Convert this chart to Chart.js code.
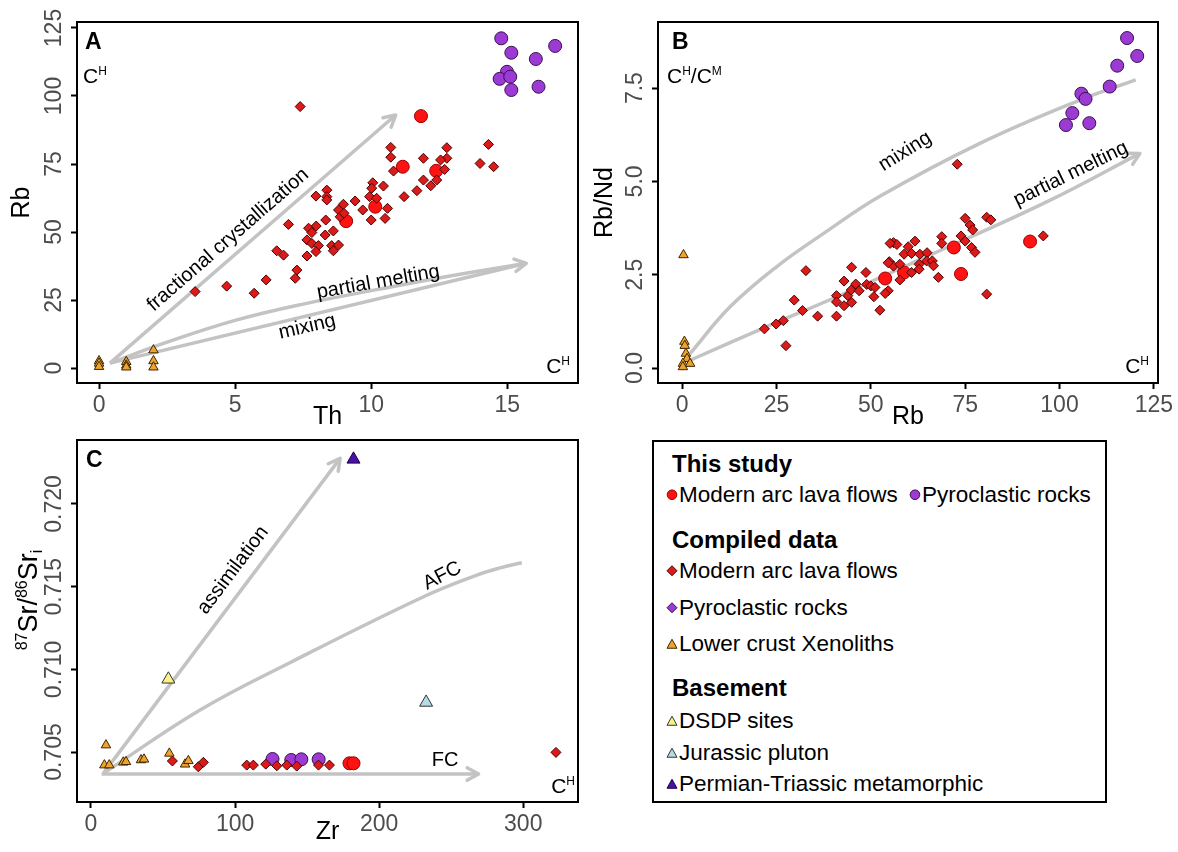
<!DOCTYPE html>
<html>
<head>
<meta charset="utf-8">
<script src="https://cdn.jsdelivr.net/npm/chart.js@4.4.1/dist/chart.umd.min.js"></script>
<style>
  body { margin: 0; background: #fff; width: 1178px; height: 852px; position: relative; overflow: hidden;
         font-family: "Liberation Sans", Arial, sans-serif; }
  canvas { position: absolute; }
  #legend { position: absolute; left: 652px; top: 440px; width: 451px; height: 359px; border: 2px solid #000; }
  .lg { position: absolute; white-space: nowrap; line-height: 1; color: #000; transform: translateY(-50%); }
  .lg.head { font-weight: bold; font-size: 24px; }
  .lg.item { font-size: 22.5px; display: flex; align-items: center; }
  .lg.item svg { margin-right: 1px; }
</style>
</head>
<body>
<canvas id="panelA" width="590" height="432" style="left:0;top:0"></canvas>
<canvas id="panelB" width="588" height="432" style="left:590px;top:0"></canvas>
<canvas id="panelC" width="590" height="432" style="left:0;top:420px"></canvas>
<div id="legend"></div>
<script>
// ---------- panel A : Th vs Rb ----------
const aTicksX = [0, 5, 10, 15];
const aLabelsX = ['0', '5', '10', '15'];
const aTicksY = [0, 25, 50, 75, 100, 125];
const aLabelsY = ['0', '25', '50', '75', '100', '125'];

const aLavaTh = [7.39, 10.72, 10.72, 10.82, 11.92, 12.78, 12.78, 12.55, 12.7, 11.92, 12.41, 12.19, 11.68, 11.21,
  14.31, 14.0, 14.5, 10.06, 10.02, 10.45, 9.94, 10.2, 9.41, 9.69, 10.6, 10.51, 10.0, 8.98, 8.8, 8.86, 8.37, 8.37,
  7.97, 8.33, 7.98, 7.70, 7.82, 8.61, 8.31, 6.96, 7.64, 7.82, 8.06, 8.55, 8.8, 8.61, 7.97, 7.64, 6.53, 6.78, 7.27,
  7.21, 6.14, 5.70, 4.69, 3.53, 8.37, 9.0];
const aLavaRb = [96.1, 81.1, 77.5, 72.4, 77.1, 81.0, 77.1, 76.5, 73.0, 69.1, 69.1, 67.0, 65.2, 63.0,
  82.2, 75.2, 74.0, 68.1, 66.1, 66.9, 63.0, 62.4, 61.4, 58.1, 58.7, 55.0, 54.4, 60.2, 58.1, 55.6, 65.4, 63.0,
  63.2, 54.4, 52.2, 51.4, 49.8, 50.4, 48.9, 52.8, 47.1, 45.8, 45.0, 45.0, 45.2, 43.1, 42.8, 41.2, 43.1, 41.5, 36.0,
  33.0, 32.4, 27.5, 30.1, 28.1, 61.8, 56.9];
const aStudyLavaTh = [11.83, 11.16, 12.39, 10.15, 9.08];
const aStudyLavaRb = [92.6, 74.0, 72.5, 59.3, 54.0];
const aPyroTh = [14.78, 15.15, 16.76, 16.05, 14.99, 14.72, 15.11, 15.15, 16.15];
const aPyroRb = [121.2, 115.9, 118.4, 113.6, 108.9, 106.3, 107.1, 102.2, 103.4];
const aXenoTh = [0, 0, 0, 1, 1, 1, 2, 2, 2];
const aXenoRb = [2.6, 1.7, 0.5, 2.3, 1.0, 0.3, 6.6, 2.6, 0.3];
// model trends
const aFcTh = [0.4, 10.9];
const aFcRb = [1.8, 93];
const aPmTh = [0.4, 2.5, 5, 7.5, 10.3, 13, 15.7];
const aPmRb = [1.8, 9.5, 17.5, 23.5, 29, 34, 38.5];
const aMixTh = [0.4, 15.7];
const aMixRb = [1.8, 38.5];

// ---------- panel B : Rb vs Rb/Nd ----------
const bTicksX = [0, 25, 50, 75, 100, 125];
const bLabelsX = ['0', '25', '50', '75', '100', '125'];
const bTicksY = [0, 2.5, 5, 7.5];
const bLabelsY = ['0.0', '2.5', '5.0', '7.5'];

const bLavaRb = [72.9, 95.7, 80.7, 75.0, 76.3, 77.0, 80.7, 81.8, 73.9, 75.0, 76.7, 77.6, 68.8, 68.8, 61.7, 56.0,
  56.9, 59.9, 58.8, 60.8, 63.0, 64.9, 64.8, 66.3, 66.6, 62.8, 62.8, 54.9, 56.0, 57.7, 60.8, 57.7, 67.9, 54.6, 53.8,
  52.4, 21.8, 24.9, 26.8, 27.5, 29.7, 31.9, 32.8, 35.9, 40.9, 40.9, 40.9, 42.9, 42.9, 43.9, 44.9, 44.9, 44.8, 46.0,
  46.9, 48.7, 48.9, 50.0, 50.8, 51.1, 54.6, 55.1];
const bLavaRatio = [5.46, 3.54, 1.98, 4.01, 3.83, 3.70, 4.04, 3.97, 3.54, 3.40, 3.23, 3.10, 3.52, 3.34, 3.40, 3.36,
  3.31, 3.25, 3.05, 3.07, 3.05, 3.09, 2.87, 2.87, 2.74, 2.78, 2.65, 2.85, 2.73, 2.78, 2.56, 2.36, 2.43, 2.07, 2.0,
  1.55, 1.05, 1.18, 1.27, 0.60, 1.82, 1.54, 2.61, 1.39, 1.94, 1.77, 1.39, 2.33, 1.67, 1.94, 2.70, 1.76, 2.09, 2.25,
  2.07, 2.56, 2.24, 2.20, 1.91, 2.16, 2.82, 3.34];
const bStudyLavaRb = [92.2, 73.9, 72.0, 58.8, 53.8];
const bStudyLavaRatio = [3.39, 2.52, 3.23, 2.56, 2.40];
const bPyroRb = [117.9, 120.6, 115.3, 113.3, 105.8, 106.9, 103.4, 101.7, 107.9];
const bPyroRatio = [8.84, 8.36, 8.10, 7.54, 7.35, 7.21, 6.83, 6.51, 6.56];
const bXenoRb = [0.35, 0.6, 0.7, 1.0, 1.3, 0.2, 2.1, 0.2];
const bXenoRatio = [3.03, 0.71, 0.6, 0.39, 0.25, 0.12, 0.12, 0.03];
const bMixRb = [2.1, 12.7, 25.1, 37.4, 52.4, 78.9, 105.4, 120.2];
const bMixRatio = [0.39, 1.64, 2.72, 3.60, 4.60, 6.02, 7.18, 7.72];
const bPmRb = [2.1, 21.5, 41, 64, 96.6, 121.3];
const bPmRatio = [0.21, 1.07, 1.91, 2.95, 4.45, 5.75];

// ---------- panel C : Zr vs 87Sr/86Sr(i) ----------
const cTicksX = [0, 100, 200, 300];
const cLabelsX = ['0', '100', '200', '300'];
const cTicksY = [0.705, 0.710, 0.715, 0.720];
const cLabelsY = ['0.705', '0.710', '0.715', '0.720'];

const cXenoZr = [10.4, 9.3, 12.7, 22.4, 24.3, 34.7, 36.8, 54.4, 65.3, 67.6];
const cXenoSr = [0.70542, 0.70421, 0.70421, 0.70438, 0.70441, 0.70452, 0.70456, 0.70492, 0.70426, 0.70447];
const cLavaZr = [56.5, 74.5, 78, 108.1, 112.7, 121.3, 129, 135.9, 142.8, 157.9, 165.5, 322.7];
const cLavaSr = [0.70446, 0.70411, 0.70438, 0.70421, 0.70421, 0.70427, 0.70417, 0.70421, 0.70415, 0.70421, 0.70421, 0.70498];
const cPyroZr = [126, 139, 146, 158];
const cPyroSr = [0.70458, 0.70452, 0.70456, 0.70456];
const cStudyLavaZr = [179.4, 182.2];
const cStudyLavaSr = [0.70432, 0.70432];
const cDsdpZr = [53.7];
const cDsdpSr = [0.7094];
const cJurassicZr = [232.6];
const cJurassicSr = [0.708];
const cPermianZr = [182.2];
const cPermianSr = [0.7227];
const cAssimZr = [8.6, 172.9];
const cAssimSr = [0.70371, 0.72276];
const cAfcZr = [8.6, 75.7, 138, 230.8, 267.8, 284, 299];
const cAfcSr = [0.70371, 0.70754, 0.7104, 0.71439, 0.7157, 0.71614, 0.71645];
const cFcZr = [7.4, 269];
const cFcSr = [0.70367, 0.70367];

// ---------- styles ----------
const FONT = '"Liberation Sans", Arial, sans-serif';
const TREND = '#c3c3c3';
const sty = {
  lava:     { shape: 'rectRot',  fill: '#dc1a1a', edge: '#4a0000', r: 5 },
  study:    { shape: 'circle',   fill: '#ff1212', edge: '#9a0000', r: 6.5 },
  pyro:     { shape: 'circle',   fill: '#9b3bd4', edge: '#3a1052', r: 6.5 },
  xeno:     { shape: 'triangle', fill: '#f0a22e', edge: '#3d2600', r: 5.5 },
  dsdp:     { shape: 'triangle', fill: '#f8f28a', edge: '#333333', r: 7.5 },
  jurassic: { shape: 'triangle', fill: '#b5dbe3', edge: '#333333', r: 7.5 },
  permian:  { shape: 'triangle', fill: '#4a12a8', edge: '#1c0040', r: 7.5 }
};

const pts = (xs, ys) => xs.map((v, i) => ({ x: v, y: ys[i] }));

function markers(xs, ys, s) {
  return { data: pts(xs, ys), showLine: false, pointStyle: s.shape, pointRadius: s.r,
           pointBackgroundColor: s.fill, pointBorderColor: s.edge, pointBorderWidth: 1, order: 1 };
}
function trend(xs, ys, arrow, curved) {
  return { data: pts(xs, ys), showLine: true, pointRadius: 0, borderColor: TREND, borderWidth: 3.5,
           tension: curved ? 0.4 : 0, cubicInterpolationMode: 'default',
           fill: false, order: 5, arrow: arrow };
}

// draws text made of runs with different size / vertical shift
function drawRich(ctx, parts, x, y, align) {
  let w = 0;
  parts.forEach(p => { ctx.font = p.s + 'px ' + FONT; p.w = ctx.measureText(p.t).width; w += p.w; });
  let cx = align === 'right' ? x - w : align === 'center' ? x - w / 2 : x;
  ctx.textAlign = 'left';
  ctx.textBaseline = 'alphabetic';
  parts.forEach(p => { ctx.font = p.s + 'px ' + FONT; ctx.fillText(p.t, cx, y + (p.dy || 0)); cx += p.w; });
}
const CH = [{ t: 'C', s: 21 }, { t: 'H', s: 12, dy: -8 }];

function makeDecor(cfg) {
  return {
    id: 'decor' + cfg.letter,
    afterDatasetsDraw(chart) {
      const { ctx, scales: { x, y } } = chart;
      ctx.save();
      chart.data.datasets.forEach(ds => {
        if (!ds.arrow) return;
        const n = ds.data.length, p = ds.data[n - 1], q = ds.data[n - 2];
        const px = x.getPixelForValue(p.x), py = y.getPixelForValue(p.y);
        const ang = Math.atan2(py - y.getPixelForValue(q.y), px - x.getPixelForValue(q.x));
        ctx.strokeStyle = ds.borderColor;
        ctx.lineWidth = ds.borderWidth;
        ctx.lineCap = 'round';
        ctx.lineJoin = 'round';
        ctx.beginPath();
        ctx.moveTo(px - 13 * Math.cos(ang - 0.5), py - 13 * Math.sin(ang - 0.5));
        ctx.lineTo(px, py);
        ctx.lineTo(px - 13 * Math.cos(ang + 0.5), py - 13 * Math.sin(ang + 0.5));
        ctx.stroke();
      });
      ctx.restore();
    },
    afterDraw(chart) {
      const { ctx, chartArea: a, scales: { x, y } } = chart;
      ctx.save();
      // frame
      ctx.strokeStyle = '#000';
      ctx.lineWidth = 2;
      ctx.strokeRect(a.left, a.top, a.right - a.left, a.bottom - a.top);
      // rotated y tick labels
      ctx.fillStyle = '#4d4d4d';
      ctx.font = '23px ' + FONT;
      ctx.textAlign = 'center';
      ctx.textBaseline = 'middle';
      cfg.ticksY.forEach((v, i) => {
        ctx.save();
        ctx.translate(a.left - 22, y.getPixelForValue(v));
        ctx.rotate(-Math.PI / 2);
        ctx.fillText(cfg.labelsY[i], 0, 0);
        ctx.restore();
      });
      // notes along the trends
      ctx.fillStyle = '#000';
      cfg.notes.forEach(nt => {
        ctx.save();
        ctx.translate(x.getPixelForValue(nt.x), y.getPixelForValue(nt.y));
        ctx.rotate(nt.angle * Math.PI / 180);
        ctx.font = '20px ' + FONT;
        ctx.textAlign = 'center';
        ctx.textBaseline = 'middle';
        ctx.fillText(nt.text, 0, 0);
        ctx.restore();
      });
      // corner labels
      cfg.corners.forEach(c => {
        const cx = c.side === 'left' ? a.left + c.dx : a.right - c.dx;
        const cy = c.top ? a.top + c.dy : a.bottom - c.dy;
        drawRich(ctx, c.parts, cx, cy, c.side);
      });
      // panel letter
      ctx.font = 'bold 23px ' + FONT;
      ctx.textAlign = 'left';
      ctx.textBaseline = 'alphabetic';
      ctx.fillText(cfg.letter, a.left + cfg.letterDx, a.top + 27);
      // composed y title (panel C)
      if (cfg.richTitle) {
        ctx.save();
        ctx.translate(cfg.richTitle.x, (a.top + a.bottom) / 2 + cfg.richTitle.dy);
        ctx.rotate(-Math.PI / 2);
        drawRich(ctx, cfg.richTitle.parts, 0, 9, 'center');
        ctx.restore();
      }
      ctx.restore();
    }
  };
}

function makePanel(id, cfg, datasets) {
  return new Chart(document.getElementById(id), {
    type: 'scatter',
    data: { datasets: datasets },
    options: {
      responsive: false, animation: false, events: [], devicePixelRatio: 1,
      layout: { padding: { top: cfg.padTop, right: cfg.padRight, left: 0, bottom: 0 } },
      plugins: { legend: { display: false }, tooltip: { enabled: false } },
      scales: {
        x: {
          type: 'linear', min: cfg.xMin, max: cfg.xMax,
          afterBuildTicks: s => { s.ticks = cfg.ticksX.map(v => ({ value: v })); },
          afterFit: s => { s.height = cfg.xHeight; },
          grid: { drawOnChartArea: false, drawTicks: true, tickLength: 6, tickColor: '#000', tickWidth: 2 },
          border: { display: false },
          ticks: { color: '#4d4d4d', font: { size: 23, family: FONT }, padding: 3, maxRotation: 0,
                   callback: (v, i) => cfg.labelsX[i] },
          title: { display: true, text: cfg.titleX, color: '#000', font: { size: 25, family: FONT },
                   padding: { top: 0, bottom: cfg.xTitlePad } }
        },
        y: {
          type: 'linear', min: cfg.yMin, max: cfg.yMax,
          afterBuildTicks: s => { s.ticks = cfg.ticksY.map(v => ({ value: v })); },
          afterFit: s => { s.width = cfg.yWidth; },
          grid: { drawOnChartArea: false, drawTicks: true, tickLength: 6, tickColor: '#000', tickWidth: 2 },
          border: { display: false },
          ticks: { display: false },
          title: { display: !!cfg.titleY, text: cfg.titleY || '', color: '#000', font: { size: 25, family: FONT },
                   padding: { top: cfg.yTitlePad, bottom: 0 } }
        }
      }
    },
    plugins: [makeDecor(cfg)]
  });
}

makePanel('panelA', {
  letter: 'A', letterDx: 8, padTop: 22, padRight: 12, xHeight: 49, yWidth: 77,
  xMin: -0.81, xMax: 17.6, yMin: -5.5, yMax: 127.2,
  ticksX: aTicksX, labelsX: aLabelsX, ticksY: aTicksY, labelsY: aLabelsY,
  titleX: 'Th', titleY: 'Rb', xTitlePad: 0, yTitlePad: 7,
  notes: [
    { text: 'fractional crystallization', x: 4.74, y: 47.1, angle: -41 },
    { text: 'partial melting', x: 10.26, y: 31.6, angle: -10 },
    { text: 'mixing', x: 7.65, y: 15.1, angle: -13 }
  ],
  corners: [
    { parts: CH, side: 'left', top: true, dx: 6, dy: 61 },
    { parts: CH, side: 'right', top: false, dx: 8, dy: 10 }
  ]
}, [
  markers(aXenoTh, aXenoRb, sty.xeno),
  markers(aLavaTh, aLavaRb, sty.lava),
  markers(aStudyLavaTh, aStudyLavaRb, sty.study),
  markers(aPyroTh, aPyroRb, sty.pyro),
  trend(aFcTh, aFcRb, true, false),
  trend(aPmTh, aPmRb, true, true),
  trend(aMixTh, aMixRb, false, false)
]);

makePanel('panelB', {
  letter: 'B', letterDx: 14, padTop: 22, padRight: 20, xHeight: 49, yWidth: 68,
  xMin: -6.4, xMax: 126.1, yMin: -0.4, yMax: 9.27,
  ticksX: bTicksX, labelsX: bLabelsX, ticksY: bTicksY, labelsY: bLabelsY,
  titleX: 'Rb', titleY: 'Rb/Nd', xTitlePad: 0, yTitlePad: 0,
  notes: [
    { text: 'mixing', x: 59.1, y: 5.8, angle: -32 },
    { text: 'partial melting', x: 103.0, y: 5.2, angle: -26 }
  ],
  corners: [
    { parts: [{ t: 'C', s: 21 }, { t: 'H', s: 12, dy: -8 }, { t: '/C', s: 21 }, { t: 'M', s: 12, dy: -8 }],
      side: 'left', top: true, dx: 9, dy: 61 },
    { parts: CH, side: 'right', top: false, dx: 9, dy: 10 }
  ]
}, [
  markers(bXenoRb, bXenoRatio, sty.xeno),
  markers(bLavaRb, bLavaRatio, sty.lava),
  markers(bStudyLavaRb, bStudyLavaRatio, sty.study),
  markers(bPyroRb, bPyroRatio, sty.pyro),
  trend(bMixRb, bMixRatio, false, true),
  trend(bPmRb, bPmRatio, true, true)
]);

makePanel('panelC', {
  letter: 'C', letterDx: 9, padTop: 20, padRight: 12, xHeight: 50, yWidth: 77,
  xMin: -9.7, xMax: 338, yMin: 0.70198, yMax: 0.72387,
  ticksX: cTicksX, labelsX: cLabelsX, ticksY: cTicksY, labelsY: cLabelsY,
  titleX: 'Zr', titleY: null, xTitlePad: 5, yTitlePad: 0,
  notes: [
    { text: 'assimilation', x: 98.6, y: 0.716, angle: -53 },
    { text: 'AFC', x: 243.8, y: 0.71565, angle: -27 },
    { text: 'FC', x: 245.8, y: 0.70452, angle: 0 }
  ],
  corners: [
    { parts: CH, side: 'right', top: false, dx: 3, dy: 9 }
  ],
  richTitle: { x: 28, dy: -21, parts: [
    { t: '87', s: 16, dy: -10 }, { t: 'Sr/', s: 27 }, { t: '86', s: 16, dy: -10 },
    { t: 'Sr', s: 27 }, { t: 'i', s: 16, dy: 5 }
  ] }
}, [
  markers(cXenoZr, cXenoSr, sty.xeno),
  markers(cLavaZr, cLavaSr, sty.lava),
  markers(cPyroZr, cPyroSr, sty.pyro),
  markers(cStudyLavaZr, cStudyLavaSr, sty.study),
  markers(cDsdpZr, cDsdpSr, sty.dsdp),
  markers(cJurassicZr, cJurassicSr, sty.jurassic),
  markers(cPermianZr, cPermianSr, sty.permian),
  trend(cAssimZr, cAssimSr, true, false),
  trend(cAfcZr, cAfcSr, false, true),
  trend(cFcZr, cFcSr, true, false)
]);

// ---------- legend box ----------
const legendRows = [
  { head: 'This study', x: 18, y: 22 },
  { key: 'study', text: 'Modern arc lava flows', x: 12, y: 53 },
  { key: 'pyro', text: 'Pyroclastic rocks', x: 255, y: 53 },
  { head: 'Compiled data', x: 18, y: 98 },
  { key: 'lava', text: 'Modern arc lava flows', x: 12, y: 129 },
  { key: 'lavaPyro', text: 'Pyroclastic rocks', x: 12, y: 166 },
  { key: 'xeno', text: 'Lower crust Xenoliths', x: 12, y: 202 },
  { head: 'Basement', x: 18, y: 246 },
  { key: 'dsdp', text: 'DSDP sites', x: 12, y: 279 },
  { key: 'jurassic', text: 'Jurassic pluton', x: 12, y: 311 },
  { key: 'permian', text: 'Permian-Triassic metamorphic', x: 12, y: 342 }
];
function markerSvg(key) {
  const s = key === 'lavaPyro' ? { shape: 'rectRot', fill: '#9b3bd4', edge: '#3a1052' } : sty[key];
  let shape;
  if (s.shape === 'circle') shape = '<circle cx="6" cy="6" r="4.8"/>';
  else if (s.shape === 'rectRot') shape = '<polygon points="6,1 11,6 6,11 1,6"/>';
  else shape = '<polygon points="6,1.5 11,10.5 1,10.5"/>';
  return '<svg width="12" height="12"><g fill="' + s.fill + '" stroke="' + s.edge + '" stroke-width="1">' +
    shape + '</g></svg>';
}
const lg = document.getElementById('legend');
legendRows.forEach(r => {
  const d = document.createElement('div');
  d.style.left = r.x + 'px';
  d.style.top = r.y + 'px';
  if (r.head) { d.className = 'lg head'; d.textContent = r.head; }
  else { d.className = 'lg item'; d.innerHTML = markerSvg(r.key) + '<span>' + r.text + '</span>'; }
  lg.appendChild(d);
});
</script>
</body>
</html>
